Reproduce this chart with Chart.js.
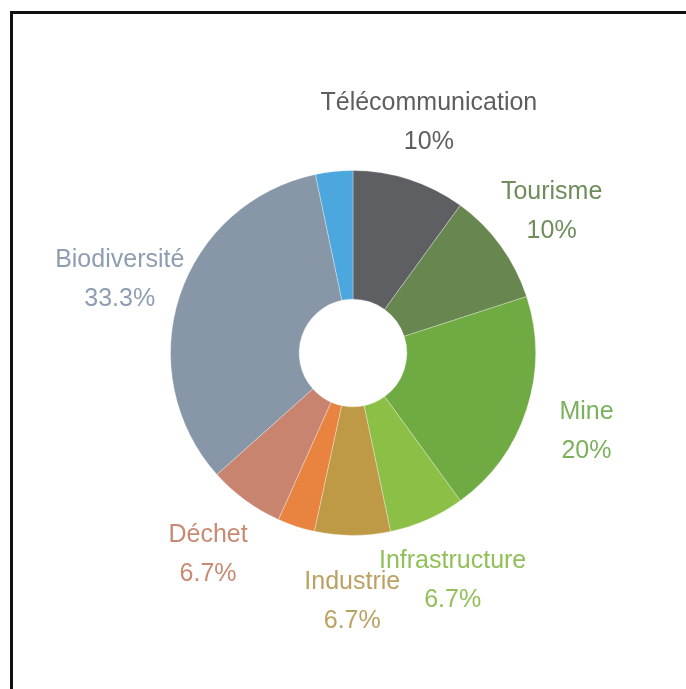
<!DOCTYPE html>
<html>
<head>
<meta charset="utf-8">
<script src="https://cdn.jsdelivr.net/npm/chart.js@4.4.1/dist/chart.umd.min.js"></script>
<style>
  html, body { margin: 0; padding: 0; background: #fff; }
  body { width: 686px; height: 689px; position: relative; overflow: hidden; }
  #frame {
    position: absolute; left: 10px; top: 11px; width: 800px; height: 800px;
    border-left: 3px solid #111; border-top: 3px solid #111; box-sizing: border-box;
  }
  #wrap { position: absolute; left: 0; top: 0; width: 686px; height: 689px; }
</style>
</head>
<body>
<div id="frame"></div>
<div id="wrap"><canvas id="donut"></canvas></div>
<script>
// slices, clockwise from top
const sliceNames = ['Télécommunication', 'Tourisme', 'Mine', 'Infrastructure', 'Industrie', '', 'Déchet', 'Biodiversité', ''];
const sliceValues = [10, 10, 20, 6.7, 6.7, 3.3, 6.7, 33.3, 3.3];
const sliceColors = ['#5d5f63', '#688650', '#6faa42', '#8cbf45', '#bf9a46', '#e8843f', '#c98470', '#8897a8', '#4ba7dd'];
const labelColors = ['#5e5e5e', '#6f8c5b', '#7bb15d', '#91bf58', '#bba262', '#e8843f', '#c88a73', '#8f9db2', '#4ba7dd'];

// outside labels: name + percent, placed along each slice's mid angle
const outsideLabels = {
    id: 'outsideLabels',
    afterDraw(chart) {
        const c = chart.ctx;
        const meta = chart.getDatasetMeta(0);
        c.save();
        c.font = '25px "Liberation Sans", Arial, sans-serif';
        c.textAlign = 'center';
        c.textBaseline = 'middle';
        meta.data.forEach((arc, i) => {
            if (!sliceNames[i]) return;
            const p = arc.getProps(['x', 'y', 'startAngle', 'endAngle', 'outerRadius'], true);
            const mid = (p.startAngle + p.endAngle) / 2;
            const r = p.outerRadius + 63;
            const lx = p.x + Math.cos(mid) * r;
            const ly = p.y + Math.sin(mid) * r + 3;
            c.fillStyle = labelColors[i];
            c.fillText(sliceNames[i], lx, ly - 19.5);
            c.fillText(sliceValues[i] + '%', lx, ly + 19.5);
        });
        c.restore();
    }
};

const ctx = document.getElementById('donut').getContext('2d');
const donutChart = new Chart(ctx, {
    type: 'doughnut',
    plugins: [outsideLabels],
    data: {
        labels: sliceNames,
        datasets: [{
            data: sliceValues,
            backgroundColor: sliceColors,
            borderColor: 'rgba(255,255,255,0.3)',
            borderWidth: 1,
            cutout: '29.5%'
        }]
    },
    options: {
        responsive: true,
        maintainAspectRatio: false,
        animation: false,
        layout: { padding: { left: 170, right: 150, top: 170, bottom: 153 } },
        plugins: {
            legend: { display: false },
            tooltip: { enabled: false }
        }
    }
});
</script>
</body>
</html>
